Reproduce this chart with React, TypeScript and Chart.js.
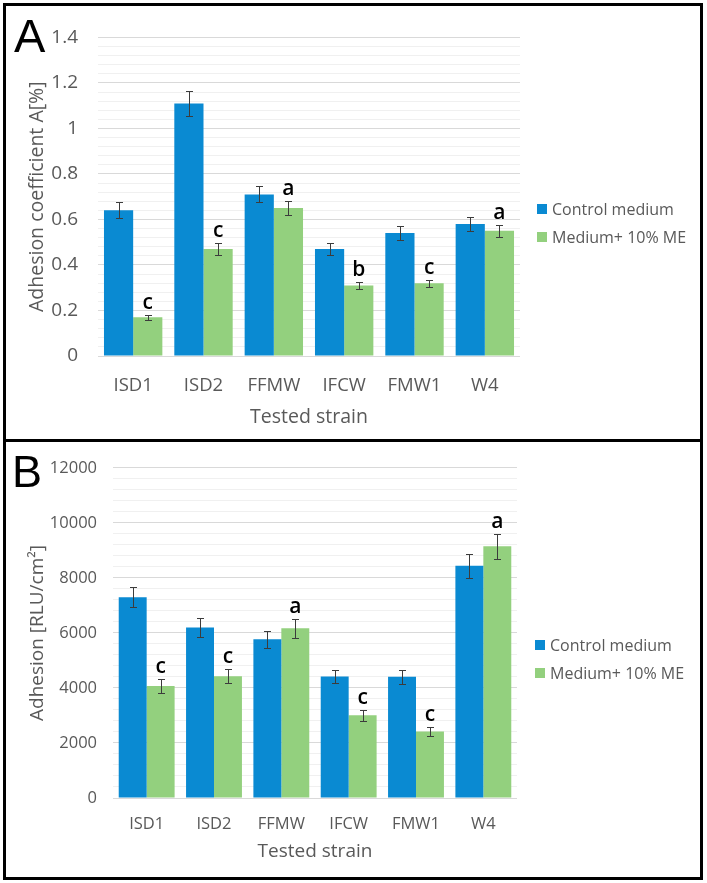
import React, { useEffect, useRef } from 'react';
import { Chart, registerables } from 'chart.js';

Chart.register(...registerables);

// ---------- data ----------
const strains = ['ISD1', 'ISD2', 'FFMW', 'IFCW', 'FMW1', 'W4'];
const seriesNames = ['Control medium', 'Medium+ 10% ME'];

const aControl = [0.64, 1.11, 0.71, 0.47, 0.54, 0.58];
const aControlErr = [0.035, 0.055, 0.035, 0.025, 0.03, 0.03];
const aMedium = [0.17, 0.47, 0.65, 0.31, 0.32, 0.55];
const aMediumErr = [0.01, 0.025, 0.03, 0.015, 0.016, 0.027];
const aLetters = ['c', 'c', 'a', 'b', 'c', 'a'];

const bControl = [7300, 6200, 5770, 4420, 4410, 8440];
const bControlErr = [370, 330, 300, 240, 250, 430];
const bMedium = [4070, 4430, 6170, 3010, 2420, 9150];
const bMediumErr = [240, 260, 340, 200, 150, 450];
const bLetters = ['c', 'c', 'a', 'c', 'c', 'a'];

// ---------- styles ----------
const BLUE = '#0a8ad2';
const GREEN = '#93d07e';
const TEXT = '#595959';
const FONT = '"Open Sans", sans-serif';

const overlayPlugin = {
  id: 'overlay',
  afterDatasetsDraw(chart: any, _args: any, opts: any) {
    const { ctx } = chart;
    const yScale = chart.scales.y;
    ctx.save();
    // error bars
    ctx.strokeStyle = '#3c3c3c';
    ctx.lineWidth = 1;
    chart.data.datasets.forEach((ds: any, di: number) => {
      const meta = chart.getDatasetMeta(di);
      meta.data.forEach((bar: any, i: number) => {
        const v = ds.data[i];
        const e = opts.errors[di][i];
        const x = Math.round(bar.x) + 0.5;
        const yt = Math.round(yScale.getPixelForValue(v + e)) + 0.5;
        const yb = Math.round(yScale.getPixelForValue(v - e)) + 0.5;
        ctx.beginPath();
        ctx.moveTo(x, yt);
        ctx.lineTo(x, yb);
        ctx.moveTo(x - 3.5, yt);
        ctx.lineTo(x + 3.5, yt);
        ctx.moveTo(x - 3.5, yb);
        ctx.lineTo(x + 3.5, yb);
        ctx.stroke();
      });
    });
    // significance letters above the second series
    const ds1 = chart.data.datasets[1];
    const meta1 = chart.getDatasetMeta(1);
    ctx.fillStyle = '#000';
    ctx.font = `600 21px ${FONT}`;
    ctx.textAlign = 'center';
    ctx.textBaseline = 'alphabetic';
    meta1.data.forEach((bar: any, i: number) => {
      const yt = yScale.getPixelForValue(ds1.data[i] + opts.errors[1][i]);
      ctx.fillText(opts.letters[i], bar.x, yt - 6);
    });
    // legend
    const lx = chart.chartArea.right + opts.legendDx;
    ctx.font = `16px ${FONT}`;
    ctx.textAlign = 'left';
    ctx.textBaseline = 'middle';
    chart.data.datasets.forEach((ds: any, di: number) => {
      const cy = opts.legendY[di];
      ctx.fillStyle = ds.backgroundColor;
      ctx.fillRect(lx, cy - 5, 10, 10);
      ctx.fillStyle = TEXT;
      ctx.fillText(ds.label, lx + 15, cy + 1);
    });
    ctx.restore();
  },
};

type PanelCfg = {
  control: number[];
  controlErr: number[];
  medium: number[];
  mediumErr: number[];
  letters: string[];
  max: number;
  minorStep: number;
  majorStep: number;
  yTitle: string;
  width: number;
  height: number;
  yWidth: number;
  xHeight: number;
  padTop: number;
  padRight: number;
  tickFont: number;
  xTickFont: number;
  titleFont: number;
  yTickPad: number;
  xTickPad: number;
  yTitlePad: number;
  xTitlePad: number;
  legendDx: number;
  legendY: number[];
  fmt: (v: number) => string;
};

function isMajor(v: number, major: number) {
  const r = v / major;
  return Math.abs(r - Math.round(r)) < 1e-6;
}

function ChartPanel({ cfg }: { cfg: PanelCfg }) {
  const ref = useRef<HTMLCanvasElement | null>(null);
  useEffect(() => {
    if (!ref.current) return;
    const chart = new Chart(ref.current, {
      type: 'bar',
      data: {
        labels: strains,
        datasets: [
          {
            label: seriesNames[0],
            data: cfg.control,
            backgroundColor: BLUE,
            categoryPercentage: 0.83,
            barPercentage: 1,
          },
          {
            label: seriesNames[1],
            data: cfg.medium,
            backgroundColor: GREEN,
            categoryPercentage: 0.83,
            barPercentage: 1,
          },
        ],
      },
      options: {
        animation: false,
        responsive: false,
        layout: { padding: { left: 0, top: cfg.padTop, right: cfg.padRight, bottom: 0 } },
        plugins: {
          legend: { display: false },
          tooltip: { enabled: false },
          overlay: {
            errors: [cfg.controlErr, cfg.mediumErr],
            letters: cfg.letters,
            legendDx: cfg.legendDx,
            legendY: cfg.legendY,
          },
        } as any,
        scales: {
          x: {
            grid: { display: false },
            border: { display: false },
            ticks: { color: TEXT, font: { family: FONT, size: cfg.xTickFont }, padding: cfg.xTickPad },
            title: {
              display: true,
              text: 'Tested strain',
              color: TEXT,
              font: { family: FONT, size: cfg.titleFont },
              padding: { top: 0, bottom: cfg.xTitlePad },
            },
            afterFit: (s: any) => {
              s.height = cfg.xHeight;
            },
          },
          y: {
            min: 0,
            max: cfg.max,
            border: { display: false },
            grid: {
              drawTicks: false,
              color: (c: any) => (isMajor(c.tick.value, cfg.majorStep) ? '#d9d9d9' : '#f0f0f0'),
            },
            ticks: {
              stepSize: cfg.minorStep,
              autoSkip: false,
              color: TEXT,
              font: { family: FONT, size: cfg.tickFont },
              padding: cfg.yTickPad,
              callback: (v: any) => (isMajor(Number(v), cfg.majorStep) ? cfg.fmt(Number(v)) : ''),
            },
            title: {
              display: true,
              text: cfg.yTitle,
              color: TEXT,
              font: { family: FONT, size: cfg.titleFont },
              padding: { top: cfg.yTitlePad, bottom: 0 },
            },
            afterFit: (s: any) => {
              s.width = cfg.yWidth;
            },
          },
        },
      },
      plugins: [overlayPlugin as any],
    });
    return () => chart.destroy();
  }, [cfg]);
  return (
    <canvas
      ref={ref}
      width={cfg.width}
      height={cfg.height}
      style={{ display: 'block', width: cfg.width, height: cfg.height }}
    />
  );
}

const panelA: PanelCfg = {
  control: aControl,
  controlErr: aControlErr,
  medium: aMedium,
  mediumErr: aMediumErr,
  letters: aLetters,
  max: 1.4,
  minorStep: 0.04,
  majorStep: 0.2,
  yTitle: 'Adhesion coefficient A[%]',
  width: 694,
  height: 433,
  yWidth: 92,
  xHeight: 83,
  padTop: 20,
  padRight: 180,
  tickFont: 19,
  xTickFont: 18.5,
  titleFont: 19.5,
  yTickPad: 20,
  xTickPad: 11,
  yTitlePad: 20,
  xTitlePad: 10,
  legendDx: 17,
  legendY: [203, 231],
  fmt: (v) => String(Math.round(v * 10) / 10),
};

const panelB: PanelCfg = {
  control: bControl,
  controlErr: bControlErr,
  medium: bMedium,
  mediumErr: bMediumErr,
  letters: bLetters,
  max: 12000,
  minorStep: 400,
  majorStep: 2000,
  yTitle: 'Adhesion [RLU/cm²]',
  width: 694,
  height: 435,
  yWidth: 107,
  xHeight: 79,
  padTop: 17,
  padRight: 183,
  tickFont: 16.5,
  xTickFont: 16.5,
  titleFont: 19,
  yTickPad: 16,
  xTickPad: 8,
  yTitlePad: 20,
  xTitlePad: 14,
  legendDx: 18,
  legendY: [203, 231],
  fmt: (v) => String(Math.round(v)),
};

export default function App() {
  const box: React.CSSProperties = {
    position: 'absolute',
    left: 3,
    width: 700,
    border: '3px solid #000',
    boxSizing: 'border-box',
    background: '#fff',
  };
  const big: React.CSSProperties = {
    position: 'absolute',
    fontFamily: '"Liberation Sans", Arial, sans-serif',
    lineHeight: 1,
    color: '#000',
  };
  return (
    <div style={{ position: 'fixed', left: 0, top: 0, width: 707, height: 883, background: '#fff' }}>
      <div style={{ ...box, top: 3, height: 439 }}>
        <ChartPanel cfg={panelA} />
      </div>
      <div style={{ ...box, top: 439, height: 441 }}>
        <ChartPanel cfg={panelB} />
      </div>
      <div style={{ ...big, left: 14, top: 12, fontSize: 47 }}>A</div>
      <div style={{ ...big, left: 12, top: 449, fontSize: 45 }}>B</div>
    </div>
  );
}
